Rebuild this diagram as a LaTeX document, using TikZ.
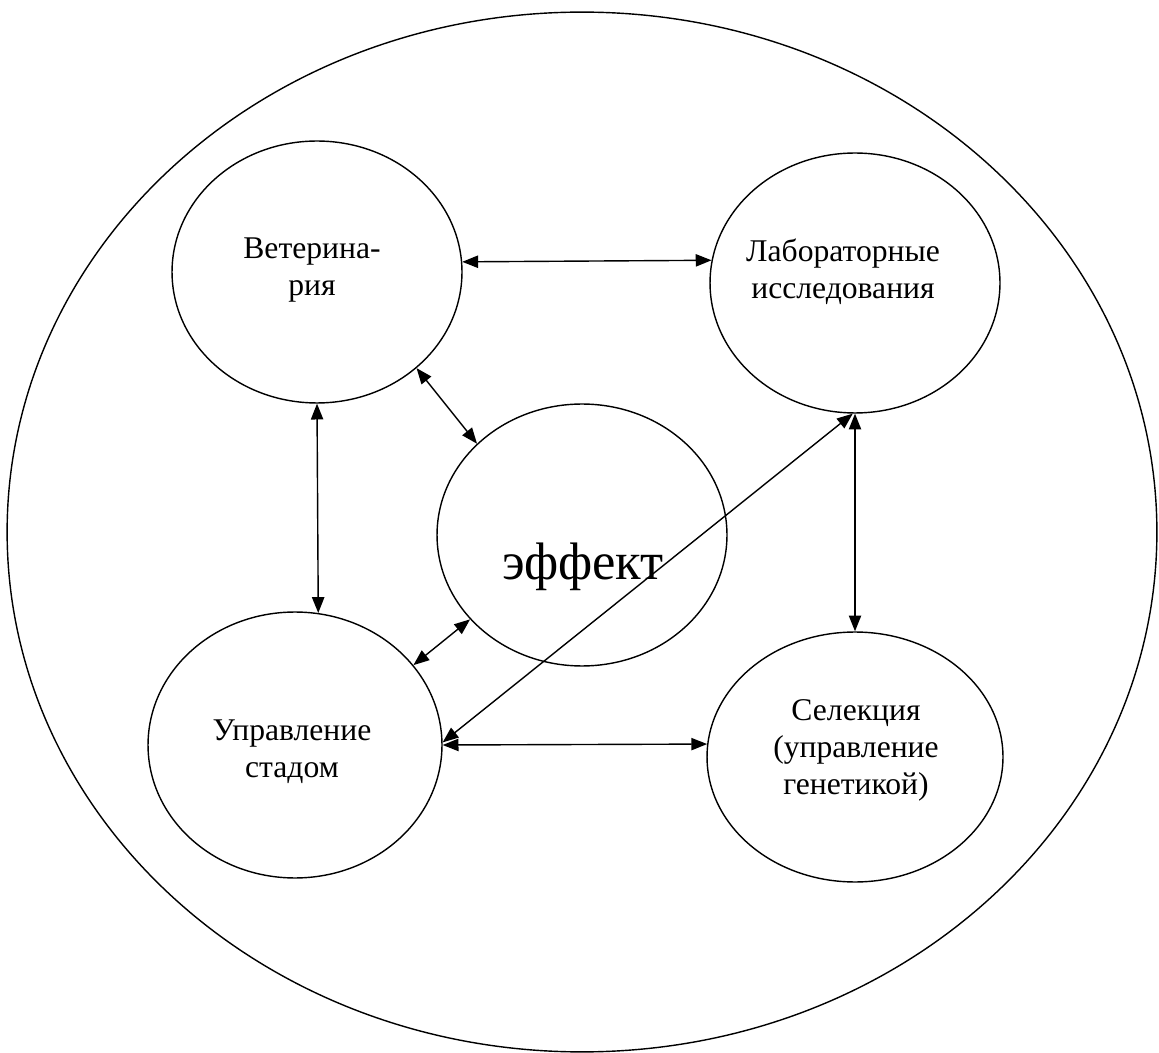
\documentclass[tikz,border=0pt]{standalone}
\usepackage{fontspec}
\setmainfont{Liberation Serif}
\usetikzlibrary{arrows.meta,shapes.geometric}
\begin{document}
\begin{tikzpicture}[x=0.02cm,y=-0.02cm,
    blob/.style={draw, ellipse, line width=0.8pt, inner sep=0pt, minimum width=5.8cm, minimum height=5.24cm},
    lbl/.style={align=center, font=\fontsize{18}{21}\selectfont},
    >={Triangle[length=9pt,width=7pt]},
    link/.style={<->, line width=0.8pt}]
    \useasboundingbox (0,0) rectangle (1159,1053);

    \node[draw, ellipse, line width=0.8pt, inner sep=0pt, minimum width=23cm, minimum height=20.8cm] (outer) at (582,532) {};

    \node[blob] (vet) at (317,272) {};
    \node[blob, minimum height=5.2cm] (lab) at (855,283) {};
    \node[blob] (eff) at (582,535) {};
    \node[blob, minimum width=5.88cm, minimum height=5.32cm] (upr) at (295,745) {};
    \node[blob, minimum width=5.92cm, minimum height=5cm] (sel) at (855,757) {};

    \node[lbl] (vett) at (312,270) {Ветерина-\\рия};
    \node[lbl] (labt) at (843,272) {Лабораторные\\исследования};
    \node[font=\fontsize{30}{36}\selectfont] (efft) at (583,567) {эффект};
    \node[lbl] (uprt) at (292,752) {Управление\\стадом};
    \node[lbl] (selt) at (856,750) {Селекция\\(управление\\генетикой)};

    \draw[link] (vet.4) to (lab.171);
    \draw[link] (vet.-44) to (eff.139);
    \draw[link] (vet.south) to (upr.80);
    \draw[link] (lab.south) to (sel.north);
    \draw[link] (lab.-91) to (upr.1);
    \draw[link] (eff.217) to (upr.34);
    \draw[link] (upr.east) to (sel.175);
\end{tikzpicture}
\end{document}
